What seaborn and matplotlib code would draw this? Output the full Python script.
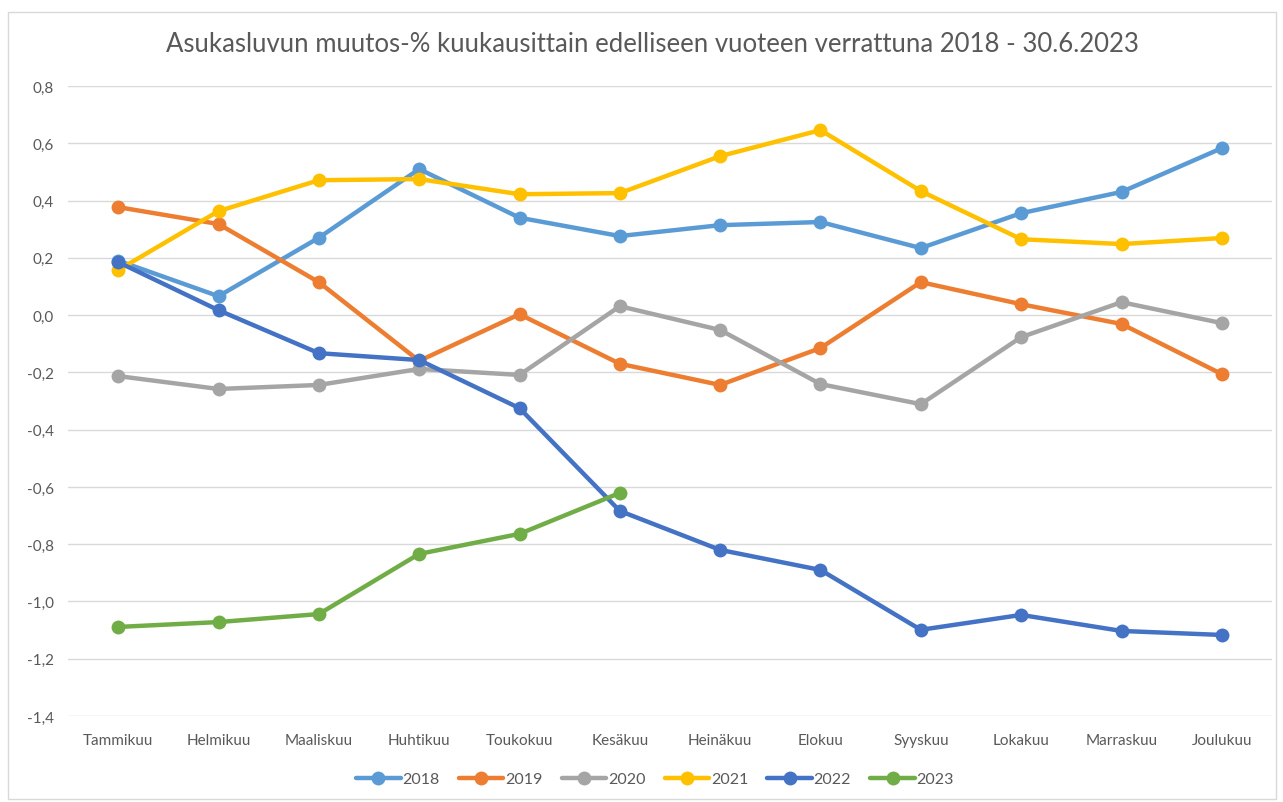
import pandas as pd
import matplotlib.pyplot as plt
import seaborn as sns
from matplotlib.patches import Rectangle
from matplotlib.ticker import FuncFormatter

months = ['Tammikuu', 'Helmikuu', 'Maaliskuu', 'Huhtikuu', 'Toukokuu', 'Kesäkuu',
          'Heinäkuu', 'Elokuu', 'Syyskuu', 'Lokakuu', 'Marraskuu', 'Joulukuu']

v2018 = [0.19, 0.066, 0.27, 0.51, 0.34, 0.276, 0.314, 0.325, 0.234, 0.356, 0.43, 0.583]
v2019 = [0.377, 0.318, 0.115, -0.16, 0.003, -0.17, -0.244, -0.115, 0.115, 0.038, -0.031, -0.206]
v2020 = [-0.213, -0.258, -0.244, -0.188, -0.209, 0.031, -0.052, -0.241, -0.311, -0.077, 0.045, -0.028]
v2021 = [0.157, 0.363, 0.471, 0.475, 0.422, 0.426, 0.555, 0.646, 0.433, 0.265, 0.248, 0.269]
v2022 = [0.185, 0.017, -0.133, -0.157, -0.325, -0.684, -0.82, -0.89, -1.099, -1.047, -1.103, -1.117]
v2023 = [-1.089, -1.072, -1.044, -0.834, -0.764, -0.621]

series = {'2018': v2018, '2019': v2019, '2020': v2020,
          '2021': v2021, '2022': v2022, '2023': v2023}
colors = ['#5B9BD5', '#ED7D31', '#A5A5A5', '#FFC000', '#4472C4', '#70AD47']

rows = []
for year, vals in series.items():
    for i, v in enumerate(vals):
        rows.append({'Kuukausi': i, 'Vuosi': year, 'Muutos': v})
df = pd.DataFrame(rows)

sns.set_theme(style="white")
plt.rcParams['font.family'] = ['Lato', 'DejaVu Sans']

fig = plt.figure(figsize=(12.83, 8.03), dpi=100)
W, H = 1283, 803
ax = fig.add_axes([68 / W, (H - 717) / H, (1272 - 68) / W, (717 - 87) / H])

# chart area border
fig.patches.append(Rectangle((8 / W, 3 / H), (1276 - 8) / W, (790 - 3) / H,
                             transform=fig.transFigure, fill=False,
                             edgecolor='#D9D9D9', linewidth=1))

sns.lineplot(data=df, x='Kuukausi', y='Muutos', hue='Vuosi', palette=colors,
             marker='o', markersize=10, markeredgewidth=0, linewidth=3.2,
             ax=ax, legend=False)

ax.set_xlim(-0.5, 11.5)
ax.set_ylim(-1.4, 0.8)
ax.set_yticks([-1.4 + 0.2 * i for i in range(12)])
ax.yaxis.set_major_formatter(FuncFormatter(lambda v, p: f'{v:.1f}'.replace('.', ',').replace('-0,0', '0,0')))
ax.set_xticks(range(12))
ax.set_xticklabels(months)
ax.grid(axis='y', color='#D9D9D9', linewidth=1)
ax.set_axisbelow(True)
for s in ax.spines.values():
    s.set_visible(False)
ax.tick_params(axis='both', length=0, labelsize=11, labelcolor='#595959')
ax.tick_params(axis='y', pad=10)
ax.tick_params(axis='x', pad=12)
ax.set_xlabel('')
ax.set_ylabel('')

fig.text(652 / W, 1 - 45 / H, 'Asukasluvun muutos-% kuukausittain edelliseen vuoteen verrattuna 2018 - 30.6.2023',
         ha='center', va='center', fontsize=18.5, color='#595959')

handles = [plt.Line2D([], [], color=c, marker='o', markersize=10, linewidth=3.2,
                      markeredgewidth=0) for c in colors]
fig.legend(handles, list(series.keys()), loc='center', bbox_to_anchor=(655 / W, 1 - 780 / H),
           ncol=6, frameon=False, fontsize=11.5, labelcolor='#595959',
           handlelength=2.8, handletextpad=0.1, columnspacing=1.2)

fig.savefig('out.png', dpi=100)
